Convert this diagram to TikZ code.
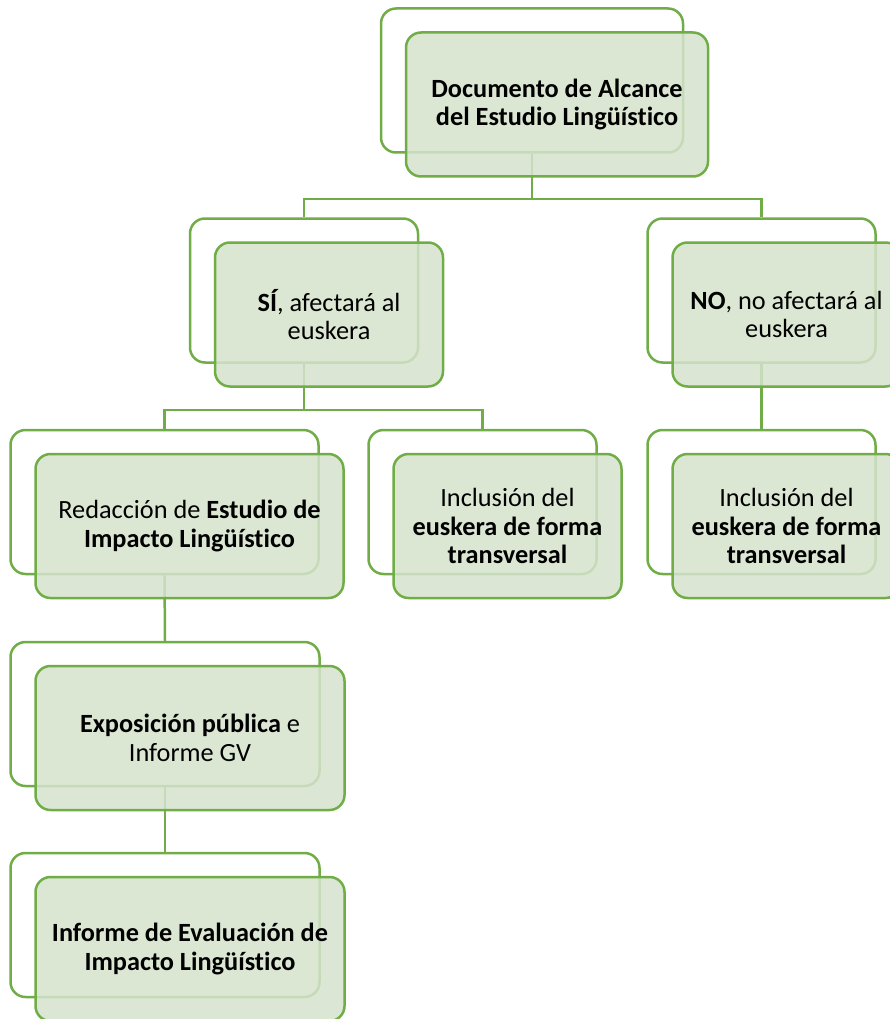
\documentclass[tikz,border=0pt]{standalone}
\usepackage{fontspec}
\setmainfont{Carlito}[Ligatures=NoCommon]
\definecolor{leafline}{HTML}{70AD47}
\definecolor{leaffill}{HTML}{D5E3CC}

\begin{document}
\begin{tikzpicture}[x=1pt, y=-1pt,
  every node/.style={font=\fontsize{26.3}{28.5}\selectfont, inner sep=0pt, minimum height=144pt},
  backbox/.style={draw=leafline, line width=2.5pt, rounded corners=15pt, fill=white},
  frontbox/.style={draw=leafline, line width=2.5pt, rounded corners=15pt, fill=leaffill, fill opacity=0.85, text opacity=1, align=center},
  link/.style={draw=leafline, line width=2.5pt}]
\useasboundingbox (0,0) rectangle (890,1019);

% back cards
\node[backbox, minimum width=302pt] (b1) at (532,80.5) {};
\node[backbox, minimum width=228pt] (b2) at (304,290.5) {};
\node[backbox, minimum width=228pt] (b3) at (761.5,290.5) {};
\node[backbox, minimum width=308pt] (b4) at (164.5,502) {};
\node[backbox, minimum width=228pt] (b5) at (482.5,502) {};
\node[backbox, minimum width=228pt] (b6) at (761.5,502) {};
\node[backbox, minimum width=309pt] (b7) at (165,714) {};
\node[backbox, minimum width=309pt] (b8) at (165,925) {};

% connectors
\draw[link] (b1.south) -- ++(0,45) -| (b2.north);
\draw[link] (b1.south) -- ++(0,45) -| (b3.north);
\draw[link] (b2.south) -- ++(0,46) -| (b4.north);
\draw[link] (b2.south) -- ++(0,46) -| (b5.north);
\draw[link] (b3.south) -- (b6.north);
\draw[link] (b4.south) -- (b7.north);
\draw[link] (b7.south) -- (b8.north);

% front cards
\node[frontbox, minimum width=302pt] (f1) at ([shift={(25,24)}]b1.center) {\textbf{Documento de Alcance}\\\textbf{del Estudio Lingüístico}};
\node[frontbox, minimum width=228pt] (f2) at ([shift={(25,24)}]b2.center) {\textbf{SÍ}, afectará al\\euskera};
\node[frontbox, minimum width=228pt] (f3) at ([shift={(25,24)}]b3.center) {\textbf{NO}, no afectará al\\euskera};
\node[frontbox, minimum width=308pt] (f4) at ([shift={(25,24)}]b4.center) {Redacción de \textbf{Estudio de}\\\textbf{Impacto Lingüístico}};
\node[frontbox, minimum width=228pt] (f5) at ([shift={(25,24)}]b5.center) {Inclusión del\\\textbf{euskera de forma}\\\textbf{transversal}};
\node[frontbox, minimum width=228pt] (f6) at ([shift={(25,24)}]b6.center) {Inclusión del\\\textbf{euskera de forma}\\\textbf{transversal}};
\node[frontbox, minimum width=309pt] (f7) at ([shift={(25,24)}]b7.center) {\textbf{Exposición pública} e\\Informe GV};
\node[frontbox, minimum width=309pt] (f8) at ([shift={(25,24)}]b8.center) {\textbf{Informe de Evaluación de}\\\textbf{Impacto Lingüístico}};
\end{tikzpicture}
\end{document}
